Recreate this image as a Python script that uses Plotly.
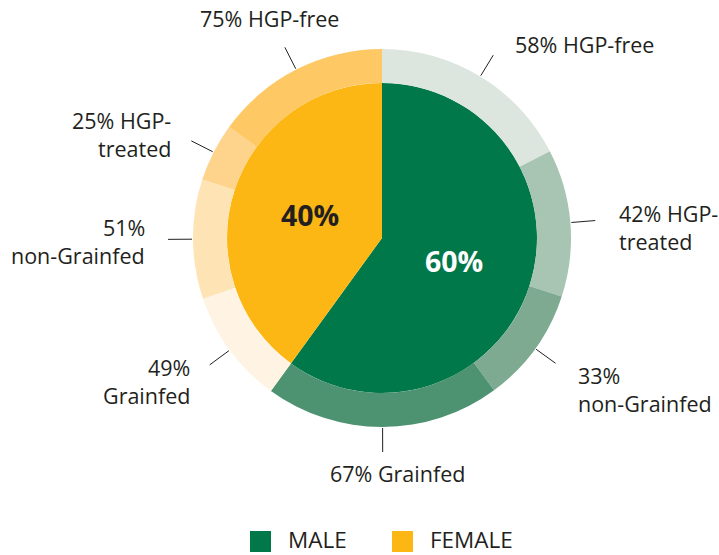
import math
import plotly.graph_objects as go

# ---- data ----
sex_labels = ["MALE", "FEMALE"]
sex_share = [60, 40]                      # % of all cattle
male_hgp = [58, 42]                       # HGP-free, HGP-treated (% of male)
male_feed = [33, 67]                      # non-Grainfed, Grainfed (% of male)
female_feed = [49, 51]                    # Grainfed, non-Grainfed (% of female)
female_hgp = [25, 75]                     # HGP-treated, HGP-free (% of female)
outer_labels = [
    "58% HGP-free", "42% HGP-<br>treated", "33%<br>non-Grainfed", "67% Grainfed",
    "49%<br>Grainfed", "51%<br>non-Grainfed", "25% HGP-<br>treated", "75% HGP-free",
]

# ---- styles ----
inner_colors = ["#00784A", "#FDB714"]
outer_colors = ["#DCE6DF", "#A8C4B3", "#7DAA91", "#4D9372",
                "#FFF4E3", "#FEE4B5", "#FED38C", "#FEC965"]
TEXT = "#231F20"
FONT = "Open Sans"
W, H = 719, 555
CX, CY = 382, 238
R_OUT, R_IN = 189, 155
LINE_R0, LINE_R1 = 190, 214
# label placement: (xanchor, dx, dy of first line, line gap)
label_place = [
    ("left", 20, -10.5, 0), ("left", 22, -7.5, 28), ("left", 20, 12, 28),
    ("center", 15, 21.5, 0), ("right", -18, 2.5, 28), ("right", -21, -12, 28),
    ("right", -18, -20.5, 28), ("center", -15.5, -28.5, 0),
]

outer_values = (
    [sex_share[0] * v / 100 / 2 for v in male_hgp]
    + [sex_share[0] * v / 100 / 2 for v in male_feed]
    + [sex_share[1] * v / 100 / 2 for v in female_feed]
    + [sex_share[1] * v / 100 / 2 for v in female_hgp]
)


def px(x, y):
    return x / W, 1 - y / H


def domain(r):
    return dict(x=[(CX - r) / W, (CX + r) / W], y=[1 - (CY + r) / H, 1 - (CY - r) / H])


def point(angle_deg, r):
    a = math.radians(angle_deg)
    return CX + r * math.sin(a), CY - r * math.cos(a)


def mid_angles(values):
    total = sum(values)
    out, cum = [], 0
    for v in values:
        out.append((cum + v / 2) / total * 360)
        cum += v
    return out


fig = go.Figure()
fig.add_trace(go.Pie(
    values=sex_share, labels=sex_labels, domain=domain(R_IN), hole=0,
    sort=False, direction="clockwise", rotation=0, textinfo="none",
    marker=dict(colors=inner_colors, line=dict(width=0)), showlegend=False,
))
fig.add_trace(go.Pie(
    values=outer_values, labels=[l.replace("<br>", " ") for l in outer_labels],
    domain=domain(R_OUT), hole=R_IN / R_OUT,
    sort=False, direction="clockwise", rotation=0, textinfo="none",
    marker=dict(colors=outer_colors, line=dict(width=0)), showlegend=False,
))

shapes, annotations = [], []
for lab, ang, (xa, dx, dy, gap) in zip(outer_labels, mid_angles(outer_values), label_place):
    x0, y0 = point(ang, LINE_R0)
    x1, y1 = point(ang, LINE_R1)
    a0, b0 = px(x0, y0)
    a1, b1 = px(x1, y1)
    shapes.append(dict(type="line", xref="paper", yref="paper", x0=a0, y0=b0, x1=a1, y1=b1,
                       line=dict(color=TEXT, width=1)))
    for i, line in enumerate(lab.split("<br>")):
        tx, ty = px(x1 + dx, y1 + dy + i * gap)
        annotations.append(dict(x=tx, y=ty, xref="paper", yref="paper", text=line,
                                showarrow=False, xanchor=xa, yanchor="middle",
                                font=dict(family=FONT, size=21.5, color=TEXT)))

# inner percentages
for val, ang, col in zip(sex_share, mid_angles(sex_share), ["white", TEXT]):
    tx, ty = px(*point(ang, 76))
    annotations.append(dict(x=tx, y=ty, xref="paper", yref="paper", text=f"<b>{val}%</b>",
                            showarrow=False, xanchor="center", yanchor="middle",
                            font=dict(family=FONT, size=28.5, color=col)))

# legend
legend_x = [250, 392]
for lab, col, lx in zip(sex_labels, inner_colors, legend_x):
    x0, y0 = px(lx, 531)
    x1, y1 = px(lx + 21, 552)
    shapes.append(dict(type="rect", xref="paper", yref="paper", x0=x0, y0=y1, x1=x1, y1=y0,
                       fillcolor=col, line=dict(width=0)))
    tx, ty = px(lx + 37, 539.5)
    annotations.append(dict(x=tx, y=ty, xref="paper", yref="paper", text=lab,
                            showarrow=False, xanchor="left", yanchor="middle", borderpad=0,
                            font=dict(family=FONT, size=22.5, color=TEXT)))

fig.update_layout(
    width=W, height=H, margin=dict(l=0, r=0, t=0, b=0),
    paper_bgcolor="white", plot_bgcolor="white",
    shapes=shapes, annotations=annotations, showlegend=False,
)
fig.write_html(
    "out.html",
    config={"displayModeBar": False},
    post_script="document.body.style.margin='0';document.body.style.overflow='hidden';",
)
